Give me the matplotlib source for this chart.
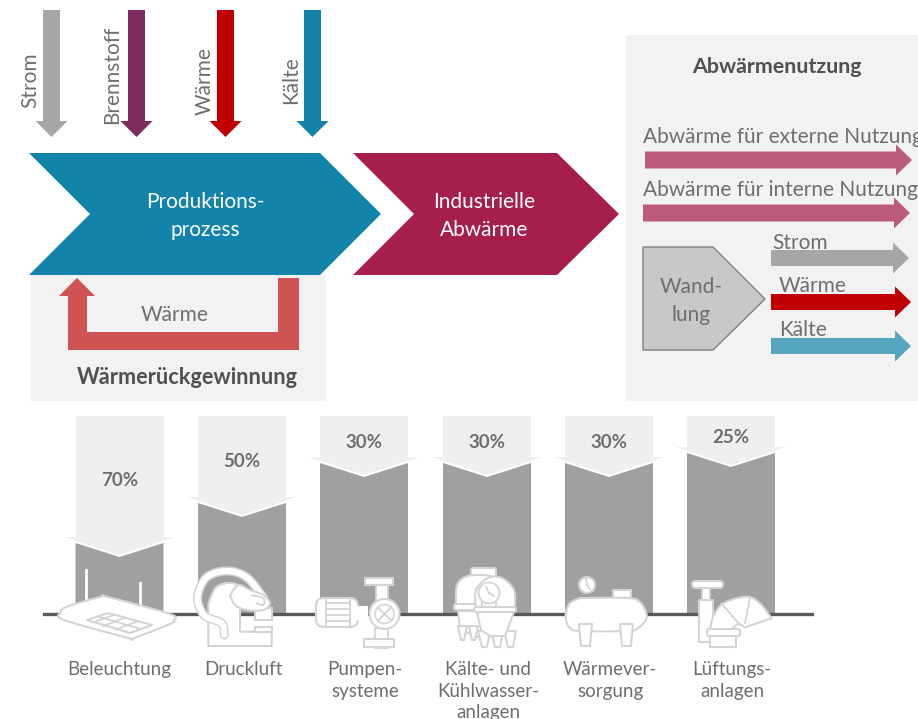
"""
Abwaerme diagram: process flow on top, saving potentials per cross-section technology below.
Everything is laid out on one axes in pixel coordinates of the 918x719 picture.
"""

import numpy as np
import matplotlib
matplotlib.use('Agg')
import matplotlib.pyplot as plt
from matplotlib.patches import Polygon, Rectangle, Circle, FancyBboxPatch

plt.rcParams['font.family'] = ['Lato', 'DejaVu Sans']

# data
technologies = ['Beleuchtung', 'Druckluft', 'Pumpen-\nsysteme',
                'Kälte- und\nKühlwasser-\nanlagen', 'Wärmever-\nsorgung', 'Lüftungs-\nanlagen']
savings = [70, 50, 30, 30, 30, 25]
input_labels = ['Strom', 'Brennstoff', 'Wärme', 'Kälte']
input_colors = ['#A6A6A6', '#7D2A5F', '#C00000', '#1283AB']
use_labels = ['Abwärme für externe Nutzung', 'Abwärme für interne Nutzung']
conversion_labels = ['Strom', 'Wärme', 'Kälte']
conversion_colors = ['#A6A6A6', '#C00000', '#55A5BF']

TEXT = '#6E6E6E'
DARK = '#505050'
PANEL = '#F2F2F2'
ICON = '#D4D4D4'
FS = 15

BASE_Y = 614
COL_W = 88
col_left = [75.5, 198, 320, 443, 565, 687]
input_x = [51.5, 136.5, 225.5, 312.5]
input_text_x = [30, 112, 205, 291]
input_text_y = [80, 75, 81, 80]


def poly(pts, color, ec='none', lw=0, z=2):
    ax.add_patch(Polygon(pts, closed=True, fc=color, ec=ec, lw=lw, zorder=z))


def right_arrow(x0, x1, y, color, half=8.5, head=16, wing=15.5):
    poly([(x0, y - half), (x1 - head, y - half), (x1 - head, y - wing), (x1, y),
          (x1 - head, y + wing), (x1 - head, y + half), (x0, y + half)], color)


def down_arrow(x, y0, y1, color):
    poly([(x - 8.5, y0), (x + 8.5, y0), (x + 8.5, 121), (x + 16, 121), (x, y1),
          (x - 16, 121), (x - 8.5, 121)], color)


def smooth(pts, n=16):
    """Catmull-Rom through the given points."""
    p = np.array(pts, dtype=float)
    p = np.vstack([p[0], p, p[-1]])
    out = []
    for i in range(1, len(p) - 2):
        for t in np.linspace(0, 1, n, endpoint=False):
            a = 2 * p[i] + (p[i + 1] - p[i - 1]) * t
            b = (2 * p[i - 1] - 5 * p[i] + 4 * p[i + 1] - p[i + 2]) * t ** 2
            c = (3 * p[i] - p[i - 1] - 3 * p[i + 1] + p[i + 2]) * t ** 3
            out.append(0.5 * (a + b + c))
    out.append(p[-2])
    return np.array(out)


def zoomed(pts, ox):
    return [(ox + x / 3, 540 + y / 3) for x, y in pts]


def outline(pts, z=6, fill='white', closed=True, lw=1.5):
    ax.add_patch(Polygon(pts, closed=closed, fc=fill, ec=ICON, lw=lw, zorder=z, joinstyle='round'))


def tube(pts, width=7.0, z=6):
    """Hose drawn as light stroke with white core."""
    c = smooth(pts)
    ax.plot(c[:, 0], c[:, 1], color=ICON, lw=width * 0.72 + 2.2, zorder=z, solid_capstyle='round')
    ax.plot(c[:, 0], c[:, 1], color='white', lw=width * 0.72, zorder=z, solid_capstyle='round')


def box(x0, y0, x1, y1, z=6, r=0):
    if r:
        ax.add_patch(FancyBboxPatch((x0 + r, y0 + r), x1 - x0 - 2 * r, y1 - y0 - 2 * r,
                                    boxstyle=f'round,pad={r}', fc='white', ec=ICON, lw=1.5, zorder=z))
    else:
        ax.add_patch(Rectangle((x0, y0), x1 - x0, y1 - y0, fc='white', ec=ICON, lw=1.5, zorder=z))


def seg(x0, y0, x1, y1, color=ICON, lw=1.3, z=7):
    ax.plot([x0, x1], [y0, y1], color=color, lw=lw, zorder=z)


def draw_lamp():
    ax.plot([86, 86], [570, 600], color='white', lw=2, zorder=3)
    ax.plot([140, 140], [583, 604], color='white', lw=2, zorder=3)
    outline(smooth([(60, 613), (66, 607), (100, 597), (108, 597), (170, 614), (174, 620),
                    (170, 624), (134, 638), (128, 638), (64, 620), (60, 613)], 8))
    outline([(87, 620), (108, 613), (152, 625), (130, 633)], z=7)
    seg(98, 616.5, 141, 629)
    seg(103, 626, 124, 618)
    seg(116, 629.5, 137, 621.5)
    seg(92, 622.5, 114, 615)


def draw_compressor():
    ox = 30
    body = smooth([(535, 190), (560, 140), (610, 130), (650, 160), (630, 205)], 8).tolist()
    outline(zoomed(body + [(630, 275), (725, 275), (725, 318), (535, 318)], ox))
    box(255, 608, 272, 620, z=7)
    box(255, 627, 272, 632, z=7)
    ring = [(700, 172), (650, 112), (590, 93), (530, 112), (503, 170), (522, 225), (575, 250), (583, 285)]
    tube(zoomed(ring, ox), width=6)
    blob = smooth([(600, 165), (625, 135), (660, 150), (700, 165), (720, 190), (700, 210),
                   (650, 210), (615, 195), (600, 165)], 8)
    outline(zoomed(blob, ox), z=8)
    curl = smooth([(665, 165), (700, 175), (700, 195), (680, 190)], 6)
    ax.plot(*np.array(zoomed(curl, ox)).T, color=ICON, lw=1.3, zorder=9)


def draw_pump():
    box(316, 598, 358, 627, r=8)
    for y in [603, 609, 615, 621]:
        seg(326, y, 350, y)
    seg(326, 598, 326, 627)
    seg(350, 598, 350, 627)
    ax.add_patch(Rectangle((376, 585), 12, 16, fc='white', ec=ICON, lw=1.3, zorder=5))
    box(365, 578, 393, 585, z=6)
    ax.add_patch(Rectangle((375, 628), 13, 20, fc='white', ec=ICON, lw=1.3, zorder=5))
    box(364, 639, 394, 647, z=6)
    ax.add_patch(Rectangle((356, 606), 12, 14, fc='white', ec='none', zorder=6))
    ax.add_patch(Circle((384.5, 614), 15, fc='white', ec=ICON, lw=1.5, zorder=7))
    ax.add_patch(Circle((384.5, 614), 9.5, fc='white', ec=ICON, lw=1.2, zorder=7))
    seg(378, 607.5, 391, 620.5)
    seg(378, 620.5, 391, 607.5)


def draw_tanks():
    # rear tank
    box(471, 568, 496, 590, z=5, r=2)
    outline(smooth([(456, 606), (457, 585), (468, 576), (490, 576), (503, 585), (504, 606)], 8), z=5)
    outline([(458, 611), (460, 628), (475, 637), (490, 637), (503, 611)], z=5)
    box(454, 604, 505, 610, z=5, r=2)
    for x in [458, 469]:
        outline([(x, 626), (x + 9, 626), (x + 6, 640), (x + 3, 640)], z=5)
    # front tank
    outline(smooth([(476, 610), (476, 590), (488, 578), (502, 578), (514, 590), (515, 610)], 8), z=6)
    ax.add_patch(Circle((489, 593), 10.5, fc='white', ec=ICON, lw=1.3, zorder=7))
    seg(489, 593, 486, 587)
    seg(489, 593, 494, 596)
    seg(482, 603, 482, 609)
    seg(496, 603, 496, 609)
    for x in [484, 497, 510]:
        outline([(x - 6, 631), (x + 6, 631), (x + 3, 647), (x - 2, 647)], z=6)
    outline([(477, 612), (481, 630), (490, 636), (505, 636), (514, 612)], z=7)
    box(474, 607, 516, 612, z=8, r=2)


def draw_heat_tank():
    box(613, 590, 631, 598, z=6)
    ax.add_patch(Rectangle((585, 598), 3, 8, fc='white', ec=ICON, lw=1.2, zorder=6))
    ax.add_patch(Circle((587, 585), 8, fc='white', ec=ICON, lw=1.5, zorder=7))
    seg(587, 585, 586, 579)
    seg(587, 585, 590, 589)
    outline(smooth([(580, 598), (628, 598), (640, 602), (646, 612), (646, 620), (638, 628),
                    (628, 631), (580, 631), (570, 628), (566, 620), (566, 612), (570, 603),
                    (580, 598)], 6), z=6)
    for x in [579, 620]:
        outline([(x, 624), (x + 13, 624), (x + 11, 646), (x + 2, 646)], z=7)


def draw_fan():
    ox = 430
    outline(zoomed([(808, 180), (850, 180), (850, 305), (808, 305)], ox), z=5)
    ax.add_patch(Rectangle((430 + 815 / 3, 540 + 145 / 3), 25 / 3, 35 / 3, fc='white', ec=ICON, lw=1.2, zorder=5))
    seg(*zoomed([(820, 180)], ox)[0], *zoomed([(838, 180)], ox)[0], z=6)
    box(692, 581, 723, 588, z=7, r=3)
    arc = smooth([(840, 270), (850, 230), (880, 190), (950, 170), (990, 190), (1025, 235)], 10).tolist()
    outline(zoomed(arc + [(945, 262), (925, 250), (905, 268)], ox), z=6)
    seg(*zoomed([(875, 190)], ox)[0], *zoomed([(925, 250)], ox)[0])
    seg(*zoomed([(960, 172)], ox)[0], *zoomed([(945, 250)], ox)[0])
    box(710, 634, 736, 647, z=7)
    box(707, 629, 740, 636, z=8, r=2)


fig = plt.figure(figsize=(9.18, 7.19), dpi=100)
ax = fig.add_axes([0, 0, 1, 1])
ax.set_xlim(0, 918)
ax.set_ylim(719, 0)
ax.axis('off')

# panels
ax.add_patch(Rectangle((31, 275), 295, 126, fc=PANEL, ec='none', zorder=1))
ax.add_patch(Rectangle((626, 35), 292, 366, fc=PANEL, ec='none', zorder=1))

# energy inputs
for x, tx, ty, label, color in zip(input_x, input_text_x, input_text_y, input_labels, input_colors):
    down_arrow(x, 10, 137, color)
    ax.text(tx, ty, label, rotation=90, ha='center', va='center', color=TEXT, fontsize=FS)

# process chevrons
poly([(29, 153), (320, 153), (381, 214), (320, 275), (29, 275), (90, 214)], '#1283AB', z=3)
poly([(353, 153), (557, 153), (619, 214), (557, 275), (353, 275), (414, 214)], '#A61E4A', z=3)
ax.text(205, 216, 'Produktions-\nprozess', color='white', ha='center', va='center', fontsize=FS, linespacing=1.55)
ax.text(484, 216, 'Industrielle\nAbwärme', color='white', ha='center', va='center', fontsize=FS, linespacing=1.55)

# heat recovery
poly([(299, 278), (299, 350), (68, 350), (68, 296), (59, 296), (77, 278), (95, 296),
      (87, 296), (87, 332), (278, 332), (278, 278)], '#CF5353')
ax.text(175, 315, 'Wärme', color=TEXT, ha='center', va='center', fontsize=FS)
ax.text(187, 378, 'Wärmerückgewinnung', color=DARK, ha='center', va='center', fontsize=15.6, fontweight='bold')

# waste heat use
ax.text(777, 67, 'Abwärmenutzung', color=DARK, ha='center', va='center', fontsize=15.4, fontweight='bold')
ax.text(643, 137, use_labels[0], color=TEXT, ha='left', va='center', fontsize=FS, clip_on=True)
ax.text(643, 190, use_labels[1], color=TEXT, ha='left', va='center', fontsize=FS, clip_on=True)
right_arrow(645, 912, 160, '#BC5B79')
right_arrow(643, 910, 213, '#BC5B79')
poly([(643, 247), (713, 247), (765, 299), (713, 350), (643, 350)], '#C8C9C7', ec='#7F7F7F', lw=1.0)
ax.text(691, 301, 'Wand-\nlung', color=TEXT, ha='center', va='center', fontsize=FS, linespacing=1.45)
conv_y = [258, 302, 346]
conv_x1 = [909, 911, 911]
conv_text = [(772, 243), (779, 286), (779, 330)]
for y, x1, (tx, ty), label, color in zip(conv_y, conv_x1, conv_text, conversion_labels, conversion_colors):
    right_arrow(771, x1, y, color, half=8)
    ax.text(tx, ty, label, color=TEXT, ha='left', va='center', fontsize=FS)

# saving potentials
for x0, pct, label in zip(col_left, savings, technologies):
    side_y = 403 + 2 * pct
    xm = x0 + COL_W / 2
    ax.add_patch(Rectangle((x0, 416), COL_W, side_y - 6 - 416, fc='#EFEFEF', ec='none', zorder=2))
    poly([(x0 - 11, side_y - 6), (x0 + COL_W + 11, side_y - 6), (xm, side_y + 12)], '#EFEFEF')
    poly([(x0, side_y), (xm, side_y + 14), (x0 + COL_W, side_y), (x0 + COL_W, BASE_Y), (x0, BASE_Y)], '#A0A0A0')
    ax.text(xm, 420 + (side_y - 416) * 0.48, f'{pct}%', color=TEXT, ha='center', va='center',
            fontsize=13.5, fontweight='bold', zorder=4)
    ax.text(xm + (1 if x0 > 100 else 0), 661, label, color=TEXT, ha='center', va='top', fontsize=13.5,
            linespacing=1.33)

ax.plot([44, 812], [BASE_Y, BASE_Y], color='#595959', lw=2.4, zorder=4)

draw_lamp()
draw_compressor()
draw_pump()
draw_tanks()
draw_heat_tank()
draw_fan()

fig.savefig('out.png', dpi=100)
